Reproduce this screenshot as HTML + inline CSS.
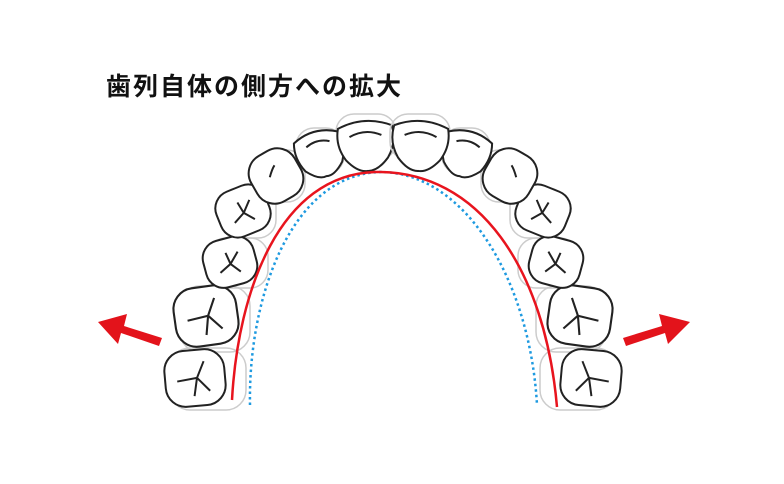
<!DOCTYPE html>
<html><head><meta charset="utf-8"><style>
body{margin:0;background:#fff;width:784px;height:484px;overflow:hidden;position:relative}
.t{position:absolute;left:106px;top:67px;font:bold 25px "Liberation Sans","Noto Sans CJK JP",sans-serif;letter-spacing:2px;color:#111}
</style></head><body>
<div class="t">歯列自体の側方への拡大</div>
<svg width="784" height="484" style="position:absolute;left:0;top:0">
<defs>
<g id="molar"><rect x="-30" y="-28" width="60" height="56" rx="20" fill="#fff" stroke="#222" stroke-width="2"/>
<path d="M-18 2 L2 0 L10 -16 M2 0 L14 14 M2 0 L-2 18" fill="none" stroke="#222" stroke-width="2"/></g>
<g id="pm"><rect x="-26" y="-24" width="52" height="48" rx="18" fill="#fff" stroke="#222" stroke-width="2"/>
<path d="M-12 8 L0 2 L10 -8 M0 2 L8 12 M0 2 L-2 -10" fill="none" stroke="#222" stroke-width="2"/></g>
<g id="can"><rect x="-25" y="-26" width="50" height="52" rx="20" fill="#fff" stroke="#222" stroke-width="2"/>
<path d="M-6 -2 Q0 -8 4 -10" fill="none" stroke="#222" stroke-width="2"/></g>
<g id="lat"><path d="M-23 -15 Q0 -27 23 -15 Q27 0 19 15 Q8 27 0 25 Q-8 27 -19 15 Q-27 0 -23 -15Z" fill="#fff" stroke="#222" stroke-width="2"/>
<path d="M-12 -8 Q0 -14 12 -8" fill="none" stroke="#222" stroke-width="2"/></g>
<g id="cen"><path d="M-27 -17 Q0 -29 27 -17 Q31 0 21 15 Q10 28 0 27 Q-10 28 -21 15 Q-31 0 -27 -17Z" fill="#fff" stroke="#222" stroke-width="2"/>
<path d="M-16 -8 Q0 -16 16 -8" fill="none" stroke="#222" stroke-width="2"/></g>
<g id="half">
<g stroke="#ccc" fill="none" stroke-width="1.5">
<rect x="170" y="348" width="76" height="62" rx="20"/><rect x="180" y="286" width="70" height="66" rx="20"/>
<rect x="208" y="238" width="60" height="50" rx="18"/><rect x="220" y="188" width="56" height="50" rx="18"/>
<rect x="255" y="150" width="50" height="52" rx="18"/><rect x="296" y="128" width="48" height="46" rx="18"/>
<rect x="336" y="114" width="60" height="46" rx="18"/>
</g>
<use href="#molar" transform="translate(195,378) rotate(-5)"/>
<use href="#molar" transform="translate(206,316) rotate(-8) scale(1.05)"/>
<use href="#pm" transform="translate(230,262) rotate(-15)"/>
<use href="#pm" transform="translate(243,211) rotate(-22)"/>
<use href="#can" transform="translate(276,176) rotate(-30)"/>
<use href="#lat" transform="translate(320,152) rotate(-15)"/>
<use href="#cen" transform="translate(366,144) rotate(-4)"/>
</g>
</defs>
<use href="#half"/>
<use href="#half" transform="translate(786,0) scale(-1,1)"/>
<path d="M250 405 C248 300 290 175 380 172 C465 172 530 280 537 405" fill="none" stroke="#1e9ae0" stroke-width="2.5" stroke-dasharray="2.5 3"/>
<path d="M232 400 C238 290 280 175 375 172 C480 170 545 270 557 407" fill="none" stroke="#e8141e" stroke-width="2.5"/>
<path d="M162 338 L124 326 L127 314 L98 322 L118 344 L121 333 L159 346Z" fill="#e3131b"/>
<path d="M623 338 L662 326 L659 314 L690 322 L668 344 L665 333 L626 346Z" fill="#e3131b"/>
</svg>
</body></html>
